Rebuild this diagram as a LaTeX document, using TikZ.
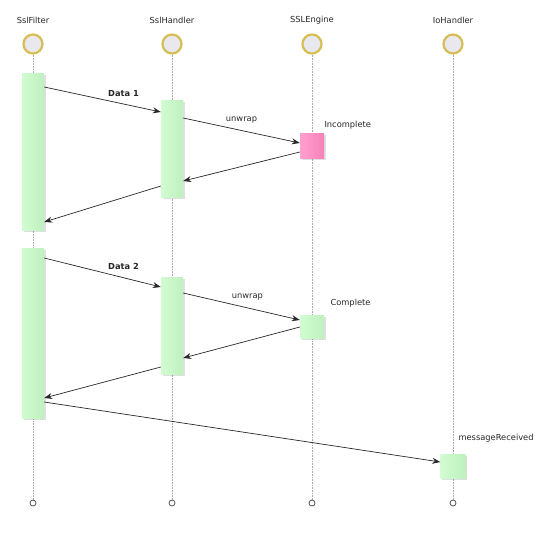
\documentclass[tikz,border=0pt]{standalone}
\usepackage{fontspec}
\setmainfont{DejaVu Sans}
\usepackage{tikz}
\usetikzlibrary{arrows.meta, shadows}
\definecolor{LifeGold}{RGB}{214,190,84}
\definecolor{HeadFill}{RGB}{232,232,238}
\definecolor{BarGreen}{RGB}{210,252,210}
\definecolor{BarGreenDk}{RGB}{190,240,190}
\definecolor{BarPink}{RGB}{255,160,205}
\definecolor{BarPinkDk}{RGB}{245,130,185}
\definecolor{MsgGray}{RGB}{40,40,40}

\begin{document}
\begin{tikzpicture}[x=1pt, y=-1pt,
          head/.style={circle, draw=LifeGold, line width=2.2pt, fill=HeadFill,
                       minimum size=19pt, inner sep=0pt},
          tail/.style={circle, draw=MsgGray!80, line width=0.8pt, fill=white,
                       minimum size=6pt, inner sep=0pt},
          life/.style={densely dotted, gray!70, line width=0.6pt},
          title/.style={font=\fontsize{8.3}{10}\selectfont, text=black!85},
          bar/.style={rectangle, left color=BarGreen, right color=BarGreenDk,
                      minimum width=22pt, inner sep=0pt, anchor=north,
                      drop shadow={shadow xshift=1.5pt, shadow yshift=-1.5pt, opacity=0.25}},
          pinkbar/.style={bar, left color=BarPink, right color=BarPinkDk},
          msg/.style={-{Stealth[length=8pt, width=6pt]}, MsgGray, line width=0.7pt},
          lbl/.style={font=\fontsize{8.3}{10}\selectfont, text=black!85},
          blbl/.style={lbl, font=\fontsize{8.3}{10}\selectfont\bfseries}
        ]
        \useasboundingbox (0,0) rectangle (554,546);

        % lifeline heads and ends
        \node[title] (tf) at (33,20)  {SslFilter};
        \node[title] (th) at (172,20) {SslHandler};
        \node[title] (te) at (312,20) {SSLEngine};
        \node[title] (ti) at (453,20) {IoHandler};
        \node[head] (hf) at (33,44)  {};
        \node[head] (hh) at (172,44) {};
        \node[head] (he) at (312,44) {};
        \node[head] (hi) at (453,44) {};
        \node[tail] (ef) at (33,503)  {};
        \node[tail] (eh) at (172,503) {};
        \node[tail] (ee) at (312,503) {};
        \node[tail] (ei) at (453,503) {};
        \foreach \n in {f,h,e,i}
          \draw[life] (h\n) -- (e\n);

        % activations
        \node[bar, minimum height=157pt] (f1) at (33,73)  {};
        \node[bar, minimum height=97pt]  (h1) at (172,100) {};
        \node[pinkbar, minimum height=25pt, minimum width=24pt] (e1) at (312,133) {};
        \node[bar, minimum height=170pt] (f2) at (33,248) {};
        \node[bar, minimum height=97pt]  (h2) at (172,277) {};
        \node[bar, minimum height=23pt, minimum width=24pt] (e2) at (312,315) {};
        \node[bar, minimum height=24pt, minimum width=25pt] (i1) at (453,454) {};

        % first message
        \draw[msg] (f1.east |- 0,87) -- (h1.west |- 0,112)
              node[blbl, pos=0.68, above=4pt] {Data 1};
        \draw[msg] (h1.east |- 0,118) -- (e1.west |- 0,143)
              node[lbl, midway, above=4pt] {unwrap};
        \node[lbl, anchor=south west] (inc) at (321,133) {Incomplete};
        \draw[msg] (e1.west |- 0,152) -- (h1.east |- 0,181);
        \draw[msg] (h1.west |- 0,186) -- (f1.east |- 0,222);

        % second message
        \draw[msg] (f2.east |- 0,258) -- (h2.west |- 0,287)
              node[blbl, pos=0.68, above=4pt] {Data 2};
        \draw[msg] (h2.east |- 0,293) -- (e2.west |- 0,320)
              node[lbl, pos=0.55, above=4pt] {unwrap};
        \node[lbl, anchor=south west] (cmp) at (327,311) {Complete};
        \draw[msg] (e2.west |- 0,327) -- (h2.east |- 0,358);
        \draw[msg] (h2.west |- 0,367) -- (f2.east |- 0,398);
        \draw[msg] (f2.east |- 0,402) -- (i1.west |- 0,462);
        \node[lbl, anchor=south west] (rcv) at (455,446) {messageReceived};
      \end{tikzpicture}
\end{document}
